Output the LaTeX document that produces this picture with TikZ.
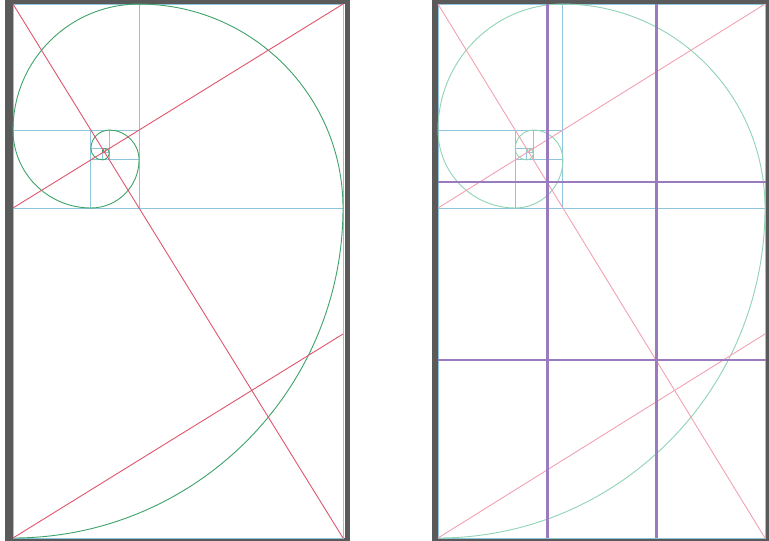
\documentclass[tikz,border=0pt]{standalone}
\definecolor{framegray}{HTML}{5A5A5A}
\definecolor{sqblue}{HTML}{8EC5DD}
\definecolor{spgreenA}{HTML}{3DA36B}
\definecolor{diagredA}{HTML}{E0566E}
\definecolor{spgreenB}{HTML}{90D3B5}
\definecolor{diagredB}{HTML}{F2A3B3}
\definecolor{thirdsviolet}{HTML}{9A7BBF}
\tikzset{
  sqline/.style={draw=sqblue, line width=0.9pt},
  thirdline/.style={draw=thirdsviolet, line width=2.2pt},
}
\newcommand{\goldpanel}[2]{%
  \foreach \ax/\ay/\bx/\by in {0/-208/330/-538, 126.05/-208/330/-4.05, 126.05/-130.10/0/-4.05,
    77.90/-130.10/0/-208, 77.90/-159.85/126.05/-208, 96.29/-159.85/126.05/-130.10,
    96.29/-148.49/77.90/-130.10, 89.27/-148.49/77.90/-159.85, 89.27/-152.83/96.29/-159.85,
    91.95/-152.83/96.29/-148.49, 91.95/-151.17/89.27/-148.49, 90.93/-151.17/89.27/-152.83}
    {\draw[sqline] (\ax,\ay) rectangle (\bx,\by);}
  \draw[draw=#1, line width=0.9pt] (0,-538)
    \foreach \k in {0,...,13}{ arc[start angle={-90+90*\k}, end angle={90*\k}, radius={330*0.618034^\k}] };
  \draw[draw=#2, line width=0.9pt] (0,-4.05) -- (330,-538);
  \draw[draw=#2, line width=0.9pt] (0,-208) -- (330,-4.05);
  \draw[draw=#2, line width=0.9pt] (0,-538) -- (330,-334);
}
\begin{document}
\begin{tikzpicture}[x=1pt,y=1pt]
\useasboundingbox (0,0) rectangle (769,-541);
% left panel
\fill[framegray] (5,0) rectangle (350,-541);
\fill[white] (12.5,-4) rectangle (344.5,-537.5);
\begin{scope}[xshift=13pt]
  \goldpanel{spgreenA}{diagredA}
\end{scope}
% right panel
\fill[framegray] (432,0) rectangle (769,-541);
\fill[white] (438,-4) rectangle (765.5,-537.5);
\begin{scope}[xshift=438pt, xscale=0.99091]
  \goldpanel{spgreenB}{diagredB}
\end{scope}
\draw[thirdline] (547.5,-4) -- (547.5,-537.5);
\draw[thirdline] (656.5,-4) -- (656.5,-537.5);
\draw[thirdline] (438,-182) -- (765.5,-182);
\draw[thirdline] (438,-360) -- (765.5,-360);
\end{tikzpicture}
\end{document}
